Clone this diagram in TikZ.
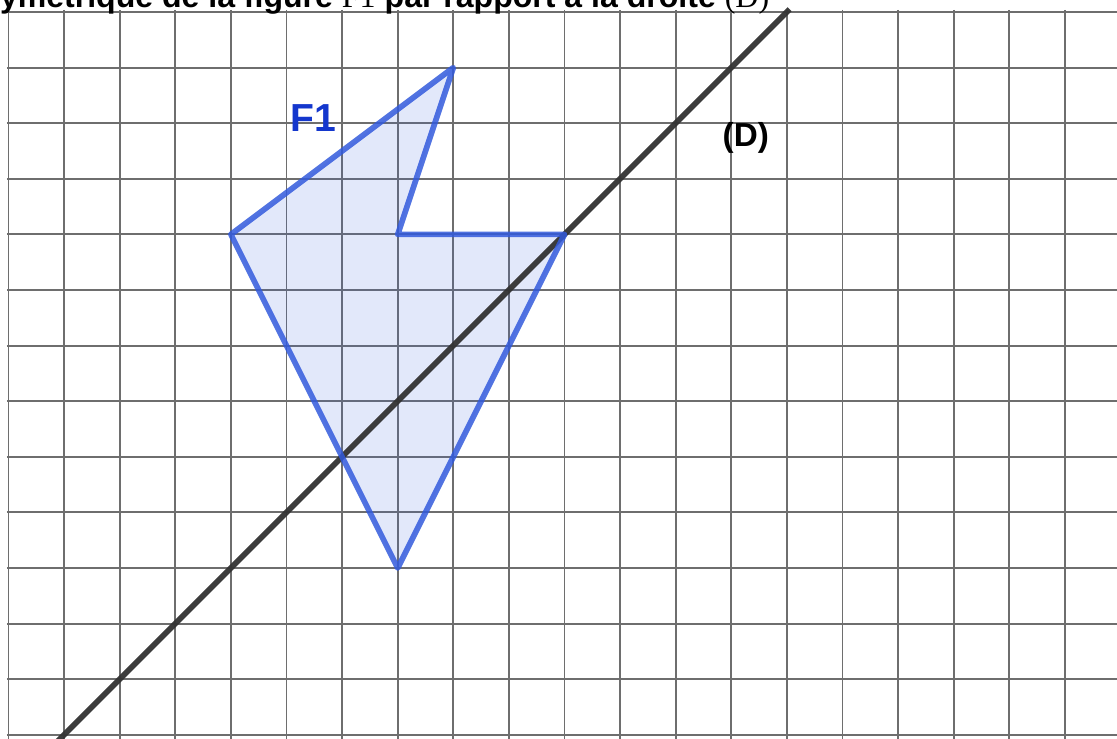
\documentclass[tikz,border=0pt]{standalone}
\usepackage{fontspec}
\setmainfont{Liberation Sans}
\newfontfamily\serifpart{Liberation Serif}
\definecolor{gridgray}{RGB}{110,110,110}
\definecolor{lineD}{RGB}{50,50,50}
\definecolor{polyblue}{RGB}{50,90,220}
\definecolor{labelblue}{RGB}{20,55,205}
\tikzset{
  gridline/.style={draw=gridgray, line width=1pt},
  droite/.style={draw=lineD, draw opacity=0.95, line width=2.9pt},
  figedge/.style={draw=polyblue, draw opacity=0.85, line width=2.9pt, line join=round},
  figfill/.style={fill=polyblue, fill opacity=0.14},
  biglabel/.style={font=\fontsize{20}{24}\selectfont\bfseries, inner sep=0pt},
  dlabel/.style={font=\fontsize{17}{20}\selectfont\bfseries, inner sep=0pt},
  titletext/.style={font=\fontsize{16.4}{19}\selectfont\bfseries, inner sep=0pt, anchor=base west}
}
\begin{document}
\begin{tikzpicture}
\useasboundingbox (-0.153,-13.058) rectangle (19.937,0.216);
\clip (-0.153,-13.058) rectangle (19.937,0.216);
% grid
\foreach \i in {0,...,19} {\draw[gridline] (\i,0.04) -- (\i,-13.2);}
\foreach \j in {0,...,13} {\draw[gridline] (-0.03,-\j) -- (20.1,-\j);}
% figure vertices
\coordinate (T) at (8,-1);
\coordinate (L) at (4,-4);
\coordinate (B) at (7,-10);
\coordinate (R) at (10,-4);
\coordinate (I) at (7,-4);
% fill
\path[figfill] (T) -- (L) -- (B) -- (R) -- (I) -- cycle;
% line D
\coordinate (D1) at (0.8,-13.2);
\coordinate (D2) at (14.05,0.05);
\draw[droite] (D1) -- (D2);
% edges
\draw[figedge] (T) -- (L) -- (B) -- (R) -- (I) -- cycle;
% labels
\node[biglabel, text=labelblue] (f1) at (5.49,-1.91) {F1};
\node[dlabel, text=black] (dl) at (13.26,-2.26) {(D)};
\node[titletext] (title) at (-0.16,0.085) {ymétrique de la figure {\serifpart\mdseries F1} par rapport à la droite {\serifpart\mdseries (D)}};
\end{tikzpicture}
\end{document}
